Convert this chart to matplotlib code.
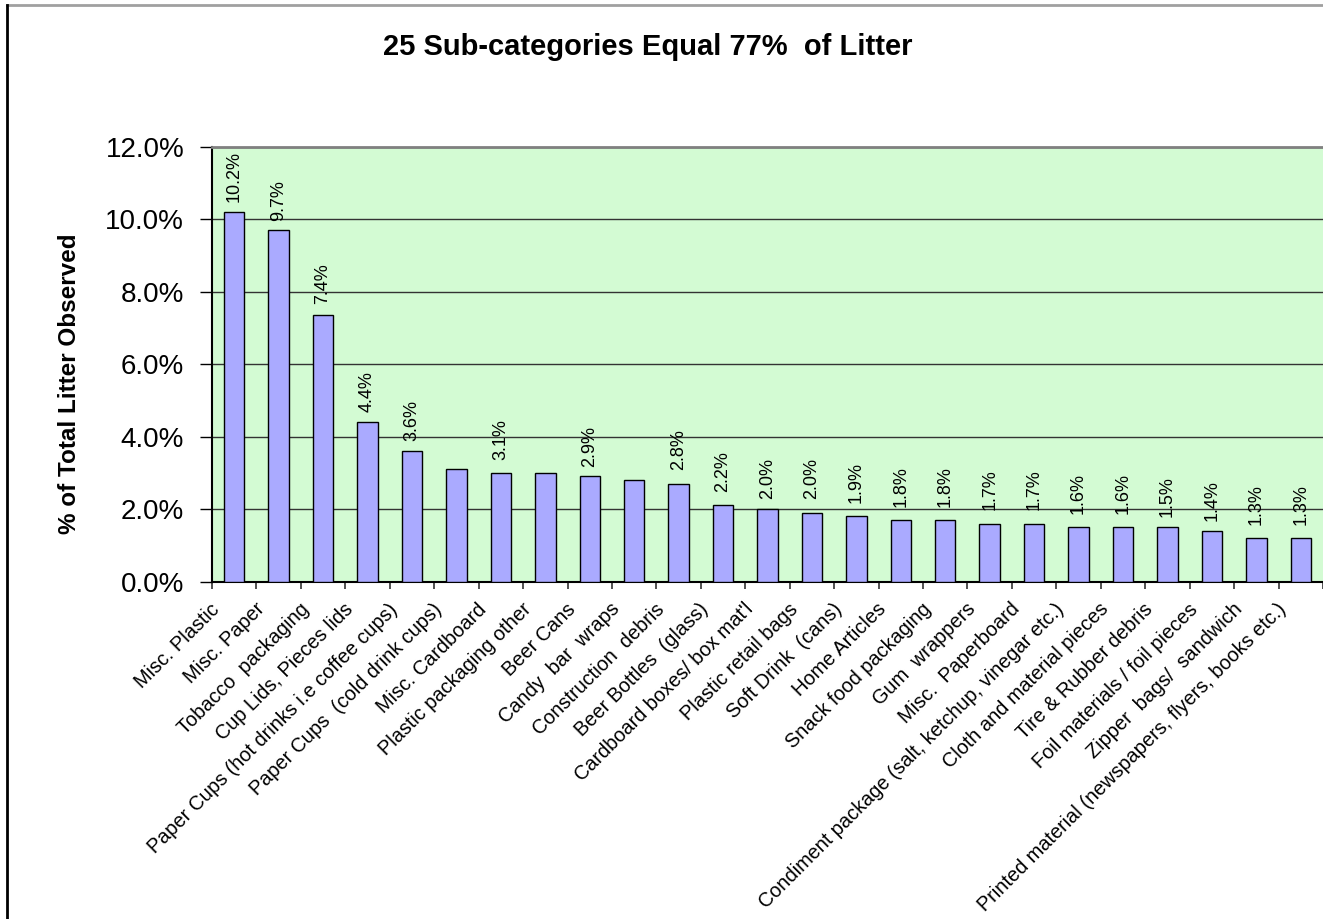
import matplotlib.pyplot as plt
from matplotlib.lines import Line2D
from matplotlib.ticker import FixedLocator, FuncFormatter
from matplotlib.transforms import ScaledTranslation

plt.rcParams["font.family"] = ["Liberation Sans", "DejaVu Sans"]

# Datos
categories = [
    "Misc. Plastic",
    "Misc. Paper",
    "Tobacco  packaging",
    "Cup Lids, Pieces lids",
    "Paper Cups (hot drinks i.e coffee cups)",
    "Paper Cups  (cold drink cups)",
    "Misc. Cardboard",
    "Plastic packaging other",
    "Beer Cans",
    "Candy  bar  wraps",
    "Construction  debris",
    "Beer Bottles  (glass)",
    "Cardboard boxes/ box mat'l",
    "Plastic retail bags",
    "Soft Drink  (cans)",
    "Home Articles",
    "Snack food packaging",
    "Gum  wrappers",
    "Misc.  Paperboard",
    "Condiment package (salt, ketchup, vinegar etc.)",
    "Cloth and material pieces",
    "Tire & Rubber debris",
    "Foil materials / foil pieces",
    "Zipper  bags/  sandwich",
    "Printed material (newspapers, flyers, books etc.)",
]
values = [10.2, 9.7, 7.35, 4.4, 3.6, 3.1, 3.0, 3.0, 2.9, 2.8, 2.7, 2.1, 2.0,
          1.9, 1.8, 1.7, 1.7, 1.6, 1.6, 1.5, 1.5, 1.5, 1.4, 1.2, 1.2]

# Etiquetas de valor tal como aparecen (no todas las barras tienen una)
label_bars = [0, 1, 2, 3, 4, 6, 8, 10, 11, 12, 13, 14, 15, 16, 17, 18, 19,
              20, 21, 22, 23, 24]
label_values = [10.2, 9.7, 7.4, 4.4, 3.6, 3.1, 2.9, 2.8, 2.2, 2.0, 2.0, 1.9,
                1.8, 1.8, 1.7, 1.7, 1.6, 1.6, 1.5, 1.4, 1.3, 1.3]

y_ticks = [0, 2, 4, 6, 8, 10, 12]

W, H = 1323, 919
fig = plt.figure(figsize=(W / 100, H / 100), dpi=100)

# Ejes en coordenadas de pixel del original
left, right, top, bottom = 212, 1323, 147, 581.5
ax = fig.add_axes([left / W, 1 - bottom / H, (right - left) / W, (bottom - top) / H])
ax.set_facecolor("#d3fbd3")

x = list(range(len(categories)))
ax.bar(x, values, width=0.46, color="#aaaaff", edgecolor="black", linewidth=1.0, zorder=3)

for idx, val in zip(label_bars, label_values):
    ax.annotate(f"{val:.1f}%", xy=(idx, val), xytext=(0, 7), textcoords="offset points",
                rotation=90, ha="center", va="bottom", fontsize=13, zorder=4)

ax.set_xlim(-0.5, len(categories) - 0.5)
ax.set_ylim(0, 12)

# Rejilla y ticks del eje y
ax.set_yticks(y_ticks)
ax.yaxis.set_major_formatter(FuncFormatter(lambda v, _: f"{v:.1f}%"))
ax.yaxis.grid(True, color="#333333", linewidth=1.0, zorder=1)
ax.set_axisbelow(True)
ax.tick_params(axis="y", length=9, width=1, pad=11, labelsize=20)

# Eje x: marcas entre categorias, etiquetas en el centro
ax.set_xticks(x)
ax.xaxis.set_minor_locator(FixedLocator([i - 0.5 for i in range(len(categories) + 1)]))
ax.tick_params(axis="x", which="major", length=0, pad=13)
ax.tick_params(axis="x", which="minor", length=5, width=1.2, color="#333333")
ax.set_xticklabels(categories, rotation=45, ha="right", va="top",
                   rotation_mode="anchor", fontsize=14.3)
shift = ScaledTranslation(-24 / 100, 0, fig.dpi_scale_trans)
for lbl in ax.get_xticklabels():
    lbl.set_transform(lbl.get_transform() + shift)

for side in ["left", "bottom"]:
    ax.spines[side].set_color("black")
    ax.spines[side].set_linewidth(1.5)
ax.spines["top"].set_color("#808080")
ax.spines["top"].set_linewidth(2)
ax.spines["right"].set_visible(False)

fig.text(648 / W, 1 - 47 / H, "25 Sub-categories Equal 77%  of Litter",
         fontsize=21, fontweight="bold", ha="center", va="center")
fig.text(70 / W, 1 - 384 / H, "% of Total Litter Observed", rotation=90,
         fontsize=17.5, fontweight="bold", ha="center", va="center")

# Marco del area del grafico (solo visible arriba e izquierda)
fig.add_artist(Line2D([7 / W, 1], [1 - 5 / H, 1 - 5 / H], color="#a0a0a0", linewidth=2))
fig.add_artist(Line2D([7 / W, 7 / W], [0, 1 - 5 / H], color="black", linewidth=2))

fig.savefig("out.png", dpi=100)
